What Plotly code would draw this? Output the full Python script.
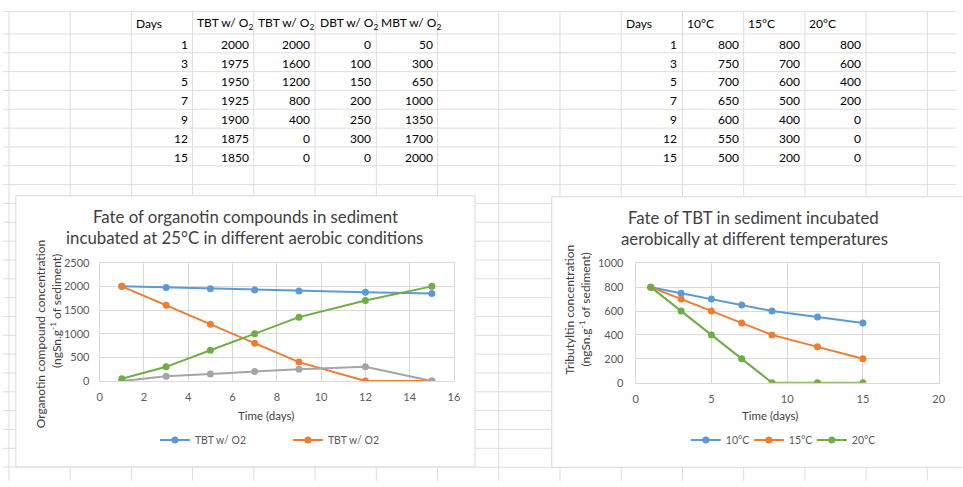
import plotly.graph_objects as go

# ---------------- data ----------------
days = [1, 3, 5, 7, 9, 12, 15]
tbt_a = [2000, 1975, 1950, 1925, 1900, 1875, 1850]
tbt_b = [2000, 1600, 1200, 800, 400, 0, 0]
dbt = [0, 100, 150, 200, 250, 300, 0]
mbt = [50, 300, 650, 1000, 1350, 1700, 2000]
left_headers = ["Days", "TBT w/ O<sub>2</sub>", "TBT w/ O<sub>2</sub>", "DBT w/ O<sub>2</sub>", "MBT w/ O<sub>2</sub>"]

t10 = [800, 750, 700, 650, 600, 550, 500]
t15 = [800, 700, 600, 500, 400, 300, 200]
t20 = [800, 600, 400, 200, 0, 0, 0]
right_headers = ["Days", "10°C", "15°C", "20°C"]

left_title = ["Fate of organotin compounds in sediment", "incubated at 25°C in different aerobic conditions"]
right_title = ["Fate of TBT in sediment incubated", "aerobically at different temperatures"]

W, H = 963, 487
FONT = "Lato"
BLUE, ORANGE, GRAY, GREEN = "#5B9BD5", "#ED7D31", "#A5A5A5", "#70AD47"
GRID = "#d9d9d9"
SHEET = "#dedede"
TXT = "#595959"


def px(x):
    return x / W


def py(y):
    return 1 - y / H


def colx(k):
    return 6 + 61.87 * k


def rowline(j):
    return 27.7 + 19.35 * j


fig = go.Figure()

mk = dict(size=7)
# left chart traces
fig.add_trace(go.Scatter(x=days, y=tbt_a, mode="lines+markers", name="TBT w/ O2",
                         line=dict(color=BLUE, width=2), marker=dict(color=BLUE, **mk),
                         xaxis="x", yaxis="y", legend="legend"))
fig.add_trace(go.Scatter(x=days, y=tbt_b, mode="lines+markers", name="TBT w/ O2",
                         line=dict(color=ORANGE, width=2), marker=dict(color=ORANGE, **mk),
                         xaxis="x", yaxis="y", legend="legend"))
fig.add_trace(go.Scatter(x=days, y=dbt, mode="lines+markers", name="DBT w/ O2", showlegend=False,
                         line=dict(color=GRAY, width=2), marker=dict(color=GRAY, **mk),
                         xaxis="x", yaxis="y"))
fig.add_trace(go.Scatter(x=days, y=mbt, mode="lines+markers", name="MBT w/ O2", showlegend=False,
                         line=dict(color=GREEN, width=2), marker=dict(color=GREEN, **mk),
                         xaxis="x", yaxis="y"))
# right chart traces
for vals, nm, c in [(t10, "10°C", BLUE), (t15, "15°C", ORANGE), (t20, "20°C", GREEN)]:
    fig.add_trace(go.Scatter(x=days, y=vals, mode="lines+markers", name=nm,
                             line=dict(color=c, width=2), marker=dict(color=c, **mk),
                             xaxis="x2", yaxis="y2", legend="legend2"))

axis_common = dict(showgrid=True, gridcolor=GRID, gridwidth=1, zeroline=False,
                   showline=True, linecolor=GRID, linewidth=1, mirror=True, ticks="",
                   tickfont=dict(family=FONT, size=11, color=TXT))

fig.update_layout(
    width=W, height=H,
    margin=dict(l=0, r=0, t=0, b=0),
    paper_bgcolor="white", plot_bgcolor="white",
    font=dict(family=FONT, color=TXT),
    xaxis=dict(domain=[px(97.7), px(455.7)], range=[0, 16], dtick=2, anchor="y",
               ticklabelstandoff=6, **axis_common),
    yaxis=dict(domain=[py(384.3), py(262.7)], range=[0, 2500], dtick=500, anchor="x",
               ticklabelstandoff=7, **axis_common),
    xaxis2=dict(domain=[px(639.3), px(945.5)], range=[0, 20], dtick=5, anchor="y2",
                ticklabelstandoff=6, **axis_common),
    yaxis2=dict(domain=[py(386), py(263.3)], range=[0, 1000], dtick=200, anchor="x2",
                ticklabelstandoff=9, **axis_common),
    legend=dict(orientation="h", x=px(153.5), y=py(445), xanchor="left", yanchor="middle",
                font=dict(family=FONT, size=10.5, color=TXT), bgcolor="rgba(0,0,0,0)",
                entrywidth=88, entrywidthmode="pixels", itemwidth=30),
    legend2=dict(orientation="h", x=px(690), y=py(445), xanchor="left", yanchor="middle",
                 font=dict(family=FONT, size=10.5, color=TXT), bgcolor="rgba(0,0,0,0)",
                 entrywidth=18, entrywidthmode="pixels", itemwidth=30),
)

shapes = []
# spreadsheet grid
for k in range(16):
    shapes.append(dict(type="line", xref="paper", yref="paper", x0=px(colx(k)), x1=px(colx(k)),
                       y0=py(4.5), y1=0, line=dict(color=SHEET, width=1), layer="below"))
shapes.append(dict(type="line", xref="paper", yref="paper", x0=px(0), x1=1,
                   y0=py(4.5), y1=py(4.5), line=dict(color=SHEET, width=1), layer="below"))
for j in range(24):
    shapes.append(dict(type="line", xref="paper", yref="paper", x0=0, x1=1,
                       y0=py(rowline(j)), y1=py(rowline(j)), line=dict(color=SHEET, width=1), layer="below"))
# chart areas
shapes.append(dict(type="rect", xref="paper", yref="paper", x0=px(13), x1=px(477), y0=py(472.5), y1=py(194),
                   fillcolor="white", line=dict(color=GRID, width=1), layer="below"))
shapes.append(dict(type="rect", xref="paper", yref="paper", x0=px(554.5), x1=px(975), y0=py(473), y1=py(195),
                   fillcolor="white", line=dict(color=GRID, width=1), layer="below"))
fig.update_layout(shapes=shapes)

ann = []
TF = dict(family=FONT, size=12, color="black")


def cell(text, x, y, anchor):
    ann.append(dict(text=str(text), x=px(x), y=py(y), xref="paper", yref="paper",
                    xanchor=anchor, yanchor="middle", showarrow=False, font=TF))


# left table: columns 2..6
for i, h in enumerate(left_headers):
    cell(h, colx(2 + i) + 2.5, 17, "left")
for j in range(len(days)):
    yc = rowline(j) + 10.5
    for i, col in enumerate([days, tbt_a, tbt_b, dbt, mbt]):
        cell(col[j], colx(3 + i) - 3, yc, "right")
# right table: columns 10..13
for i, h in enumerate(right_headers):
    cell(h, colx(10 + i) + 2.5, 17, "left")
for j in range(len(days)):
    yc = rowline(j) + 10.5
    for i, col in enumerate([days, t10, t15, t20]):
        cell(col[j], colx(11 + i) - 3, yc, "right")


def text(t, x, y, size, rot=0, color=TXT):
    ann.append(dict(text=t, x=px(x), y=py(y), xref="paper", yref="paper", xanchor="center",
                    yanchor="middle", showarrow=False, textangle=rot,
                    font=dict(family=FONT, size=size, color=color)))


TC = "#404040"
text(left_title[0], 245, 215, 16.8, color=TC)
text(left_title[1], 244, 237, 16.8, color=TC)
text(right_title[0], 758.5, 216, 16.8, color=TC)
text(right_title[1], 759, 238, 16.8, color=TC)
text("Time (days)", 265.5, 419.5, 11.5, color=TC)
text("Time (days)", 775, 420, 11.5, color=TC)
text("Organotin compound concentration", 37.7, 336, 12, -90, color=TC)
text("(ngSn.g<sup>-1</sup> of sediment)", 53, 312, 12, -90, color=TC)
text("Tributyltin concentration", 573, 311, 12, -90, color=TC)
text("(ngSn.g<sup>-1</sup> of sediment)", 588, 311, 12, -90, color=TC)

fig.update_layout(annotations=ann)
fig.write_html("out.html")
